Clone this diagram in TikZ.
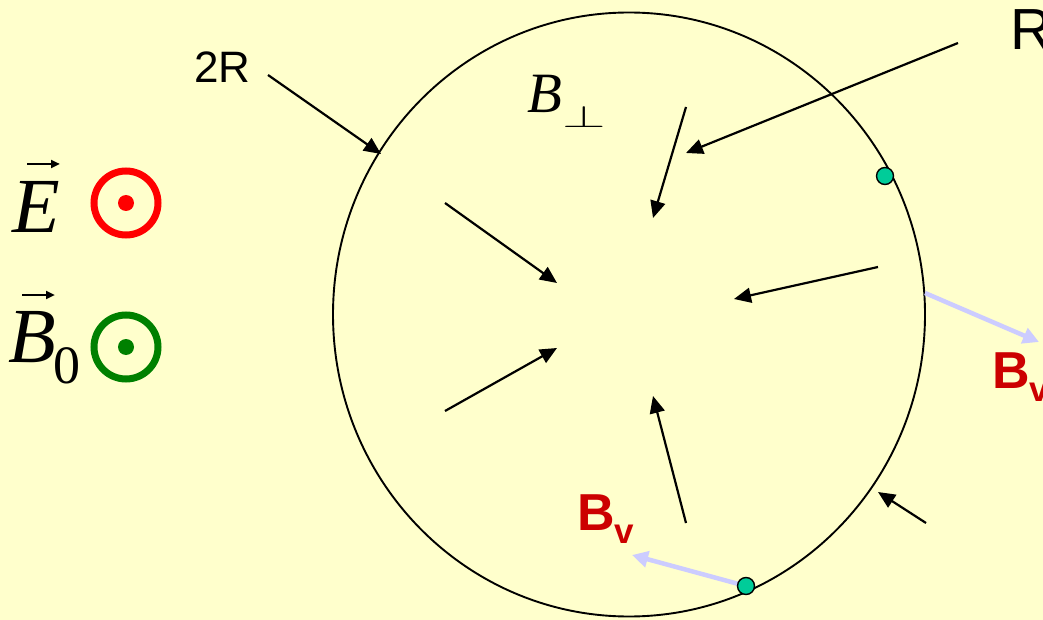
\documentclass[tikz,border=0pt]{standalone}
\usepackage{fontspec}
\usepackage{graphicx}
\setmainfont{Liberation Serif}
\newfontfamily\arialf{Liberation Sans}
\usetikzlibrary{arrows.meta}
\definecolor{bg}{RGB}{255,255,204}
\definecolor{tealq}{RGB}{0,204,153}
\definecolor{lav}{RGB}{204,204,255}
\definecolor{bvred}{RGB}{204,0,0}
\definecolor{dgreen}{RGB}{0,128,0}
\tikzset{
  blk/.style={line width=2.2pt, -{Triangle[length=17pt,width=15pt]}},
  vecarrow/.style={line width=2.4pt, -{Triangle[length=9pt,width=8pt]}},
  lavarrow/.style={draw=lav, line width=4.5pt, -{Triangle[length=16pt,width=16pt]}},
  txt/.style={inner sep=0pt, anchor=base west},
  charge/.style={circle, fill=tealq, draw=black, line width=1.4pt, minimum size=17pt, inner sep=0pt},
  odot/.style={circle, line width=7pt, minimum size=64pt, inner sep=0pt},
}
\begin{document}
\begin{tikzpicture}[x=1pt,y=-1pt]
\fill[bg] (0,0) rectangle (1043,620);
\useasboundingbox (0,0) rectangle (1043,620);
% big circle
\draw[line width=1.9pt] (629,314.5) ellipse [x radius=296, y radius=302];
% legend
\node[txt] (E) at (12,233) {\fontsize{78}{78}\selectfont\itshape E};
\draw[vecarrow] (27,164) -- (60,164);
\node[odot, draw=red] (edot) at (126,203) {};
\fill[red] (edot.center) circle[radius=8];
\node[txt] (B0) at (8,362) {\fontsize{78}{78}\selectfont\itshape B\hspace{-2pt}\raisebox{-21pt}{\upshape\fontsize{54}{54}\selectfont 0}};
\draw[vecarrow] (22,295) -- (55,295);
\node[odot, draw=dgreen] (bdot) at (126,347) {};
\fill[dgreen] (bdot.center) circle[radius=8];
% labels
\node[txt] (twoR) at (194,83) {\arialf\fontsize{44}{44}\selectfont 2R};
\node[txt] (R) at (1010,50) {\arialf\fontsize{58}{58}\selectfont R};
\node[txt] (Bperp) at (527,113) {\fontsize{57}{57}\selectfont \itshape B\raisebox{-15pt}{\scalebox{2.25}[1.25]{$\perp$}}};
\node[txt, text=bvred] (Bv1) at (577,530) {\arialf\bfseries\fontsize{52}{52}\selectfont B\raisebox{-13pt}{\fontsize{35}{35}\selectfont v}};
\node[txt, text=bvred] (Bv2) at (992,388) {\arialf\bfseries\fontsize{52}{52}\selectfont B\raisebox{-13pt}{\fontsize{35}{35}\selectfont v}};
% coordinates for arrows
\coordinate (a2Rs) at (268,75);  \coordinate (a2Re) at (381,154);
\coordinate (aRs) at (958,43);   \coordinate (aRe) at (686,153);
\coordinate (a1s) at (686,107);  \coordinate (a1e) at (653,218);
\coordinate (a2s) at (445,203);  \coordinate (a2e) at (557,283);
\coordinate (a3s) at (445,411);  \coordinate (a3e) at (557,348);
\coordinate (a4s) at (878,267);  \coordinate (a4e) at (734,299);
\coordinate (a5s) at (686,523);  \coordinate (a5e) at (653,396);
\coordinate (a6s) at (926,523);  \coordinate (a6e) at (878,492);
\coordinate (lv1s) at (925,293); \coordinate (lv1e) at (1039,342);
\coordinate (cq1) at (885,176);  \coordinate (cq2) at (746,586);
\coordinate (lv2e) at (632,555);
\draw[blk] (a2Rs) -- (a2Re);
\draw[blk] (aRs) -- (aRe);
\draw[blk] (a1s) -- (a1e);
\draw[blk] (a2s) -- (a2e);
\draw[blk] (a3s) -- (a3e);
\draw[blk] (a4s) -- (a4e);
\draw[blk] (a5s) -- (a5e);
\draw[blk] (a6s) -- (a6e);
\draw[lavarrow] (lv1s) -- (lv1e);
\draw[lavarrow] (cq2) -- (lv2e);
% charges
\node[charge] (q1) at (cq1) {};
\node[charge] (q2) at (cq2) {};
\end{tikzpicture}
\end{document}
